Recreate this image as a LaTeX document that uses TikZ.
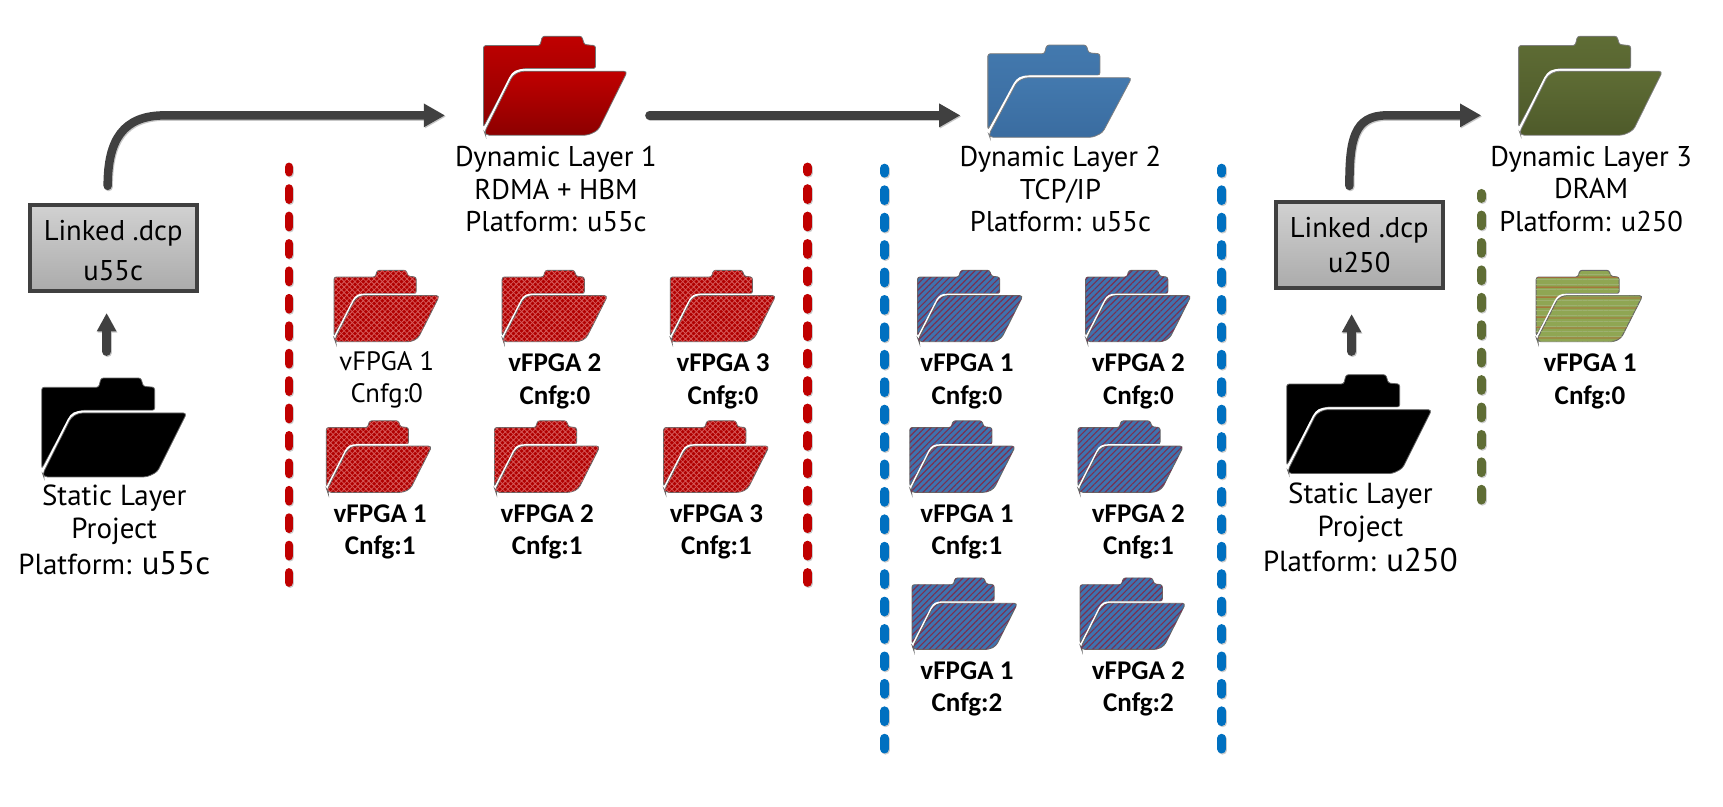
\documentclass[tikz,border=0pt]{standalone}
\usepackage{fontspec}
\setmainfont{PT Sans}
\newfontfamily\cfont{Carlito}
\usetikzlibrary{arrows.meta,patterns.meta,shadings}
\definecolor{arrowgray}{HTML}{404040}
\definecolor{dred}{HTML}{C00000}
\definecolor{dblue}{HTML}{0070C0}
\definecolor{dolive}{HTML}{5F6D35}
\definecolor{HB}{HTML}{4379AE}
\definecolor{HC}{HTML}{3A6CA0}
\definecolor{HD}{HTML}{4E5A2A}
\definecolor{HE}{HTML}{D65A5A}
\definecolor{HF}{HTML}{3F72AE}
\definecolor{HG}{HTML}{7A3050}
\definecolor{HH}{HTML}{8FA653}
\definecolor{HI}{HTML}{B0602F}
\definecolor{HJ}{HTML}{9DB070}
\tikzset{
  flow/.style={draw=arrowgray,line width=4.4pt,line cap=round,
     preaction={draw=black!22,line width=4.4pt,line cap=round,transform canvas={shift={(0.5pt,-0.6pt)}}},
     -{Triangle[length=11pt,width=11.5pt]}},
  flowshort/.style={flow,-{Triangle[length=9.5pt,width=9.5pt]}},
  sep/.style={line width=4.6pt,line cap=round,dash pattern=on 5.6pt off 8.6pt,dash phase=3pt,
     preaction={draw=black!20,line width=4.6pt,line cap=round,dash pattern=on 5.6pt off 8.6pt,dash phase=3pt,
       transform canvas={shift={(0.5pt,-0.6pt)}}}},
  labeltext/.style={align=center,inner sep=0pt,font=\fontsize{14.8}{16.8}\selectfont},
  staticText/.style={align=center,inner sep=0pt,font=\fontsize{15}{17}\selectfont},
  smalltext/.style={align=center,inner sep=0pt,font=\cfont\bfseries\fontsize{14}{17}\selectfont},
  smalllight/.style={align=center,inner sep=0pt,font=\fontsize{13.8}{16.6}\selectfont},
  linkbox/.style={draw=arrowgray,line width=2pt,top color=black!18,bottom color=black!33,
     minimum width=86.5pt,minimum height=44.5pt,align=center,inner sep=0pt,
     font=\fontsize{14.8}{21}\selectfont},
  fblack/.style={fill=black,draw=black!60,line width=.4pt},
  fred/.style={top color=dred,bottom color=red!55!black,draw=black!55,line width=.4pt},
  fblue/.style={top color=HB,bottom color=HC,draw=black!50,line width=.4pt},
  folive/.style={top color=dolive,bottom color=HD,draw=black!50,line width=.4pt},
  fredp/.style={fill=dred!92!black,draw=black!60,line width=.5pt,
     postaction={pattern={Lines[angle=45,distance=2pt,line width=.42pt]},pattern color=HE},
     postaction={pattern={Lines[angle=-45,distance=2pt,line width=.42pt]},pattern color=HE}},
  fbluep/.style={fill=HF,draw=black!60,line width=.5pt,
     postaction={pattern={Lines[angle=45,distance=2.3pt,line width=.6pt]},pattern color=HG}},
  foliveP/.style={fill=HH,draw=black!60,line width=.5pt,
     postaction={pattern={Lines[angle=0,distance=2.7pt,line width=.45pt]},pattern color=HJ},
     postaction={pattern={Lines[angle=0,distance=5.4pt,line width=.5pt]},pattern color=HI}},
}
% #1 name, #2 left, #3 top, #4 width, #5 height, #6 fill style
\newcommand\folder[6]{%
  \node[minimum width=#4*0.569pt,minimum height=#5*0.569pt,inner sep=0pt,outer sep=0pt] (#1) at (#2+#4/2,#3+#5/2) {};
  \begin{scope}[shift={(#2,#3)},x=#4*0.569pt/433,y=-#5*0.569pt/297]
    \fill[#6,rounded corners=1.2pt] (0,272) -- (0,28) -- (170,28) -- (177,0) -- (296,0) -- (303,25) -- (337,28)
       -- (337,97) -- (120,97) -- (88,110) -- cycle;
    \draw[white,line width=1pt,line cap=round] (0,284) -- (80,125) .. controls (90,107) and (100,101) .. (125,101) -- (337,101);
    \path[#6,rounded corners=1.8pt] (6,297) -- (3,288) -- (88,118) -- (112,105) -- (433,105) -- (345,282) -- (315,297) -- cycle;
  \end{scope}}
\begin{document}
\begin{tikzpicture}[x=0.569pt,y=-0.569pt]
\useasboundingbox (0,0) rectangle (1568,733.5);
% separators
\draw[sep,dred] (263,152) -- (263,530);
\draw[sep,dred] (735,152) -- (735,530);
\draw[sep,dblue] (805,153) -- (805,687);
\draw[sep,dblue] (1112,153) -- (1112,687);
\draw[sep,dolive] (1348,176) -- (1348,457);
% big folders
\folder{st1}{38}{344}{132}{90}{fblack}
\folder{st2}{1171}{341}{132}{90}{fblack}
\folder{dy1}{440}{33}{131}{90}{fred}
\folder{dy2}{899}{41}{131}{84}{fblue}
\folder{dy3}{1382}{33}{131}{90}{folive}
% small folders
\folder{ra}{304}{246}{96}{65}{fredp}
\folder{rb}{457}{246}{96}{65}{fredp}
\folder{rc}{610}{246}{96}{65}{fredp}
\folder{rd}{297}{383}{96}{65}{fredp}
\folder{re}{450}{383}{96}{65}{fredp}
\folder{rf}{604}{383}{96}{65}{fredp}
\folder{ba}{835}{246}{96}{65}{fbluep}
\folder{bb}{988}{246}{96}{65}{fbluep}
\folder{bc}{828}{383}{96}{65}{fbluep}
\folder{bd}{981}{383}{96}{65}{fbluep}
\folder{be}{830}{526}{96}{65}{fbluep}
\folder{bf}{983}{526}{96}{65}{fbluep}
\folder{oa}{1398}{246}{97}{65}{foliveP}
% boxes
\node[linkbox] (lk1) at (103,226) {\rule{0pt}{13pt}Linked .dcp\\u55c};
\node[linkbox,font=\fontsize{14.8}{18.6}\selectfont] (lk2) at (1237,223) {Linked .dcp\\u250};
% labels
\node[labeltext] (t1) at (506,172) {Dynamic Layer 1\\RDMA + HBM\\Platform: u55c};
\node[labeltext] (t2) at (965,172) {Dynamic Layer 2\\TCP/IP\\Platform: u55c};
\node[labeltext] (t3) at (1448,172) {Dynamic Layer 3\\DRAM\\Platform: u250};
\node[staticText] (t4) at (104,482) {Static Layer\\Project\\[1.5pt]Platform: {\fontsize{17}{17}\selectfont u55c}};
\node[staticText] (t5) at (1238,480) {Static Layer\\Project\\[1.5pt]Platform: {\fontsize{17}{17}\selectfont u250}};
\node[smalllight] (la) at (352,346) {vFPGA 1\\Cnfg:0};
\node[smalltext] (lb) at (505,347) {vFPGA 2\\Cnfg:0};
\node[smalltext] (lc) at (658,347) {vFPGA 3\\Cnfg:0};
\node[smalltext] (ld) at (346,484) {vFPGA 1\\Cnfg:1};
\node[smalltext] (le) at (498,484) {vFPGA 2\\Cnfg:1};
\node[smalltext] (lf) at (652,484) {vFPGA 3\\Cnfg:1};
\node[smalltext] (ma) at (880,347) {vFPGA 1\\Cnfg:0};
\node[smalltext] (mb) at (1036,347) {vFPGA 2\\Cnfg:0};
\node[smalltext] (mc) at (880,484) {vFPGA 1\\Cnfg:1};
\node[smalltext] (md) at (1036,484) {vFPGA 2\\Cnfg:1};
\node[smalltext] (me) at (880,627) {vFPGA 1\\Cnfg:2};
\node[smalltext] (mf) at (1036,627) {vFPGA 2\\Cnfg:2};
\node[smalltext] (na) at (1447,347) {vFPGA 1\\Cnfg:0};
% arrows
\draw[flow] ([shift={(-5,-16)}]lk1.north) .. controls +(0,-42) and (112,105) .. (150,105) -- ([shift={(-35,27)}]dy1.west);
\draw[flow] ([shift={(20,27)}]dy1.east) -- ([shift={(-25,22)}]dy2.west);
\draw[flow] ([shift={(-9,-13)}]lk2.north) .. controls +(0,-42) and (1232,105) .. (1262,105) -- ([shift={(-34,27)}]dy3.west);
\draw[flowshort] ([shift={(-7,-24)}]st1.north) -- ([shift={(-6,18)}]lk1.south);
\draw[flowshort] ([shift={(-7,-21)}]st2.north) -- ([shift={(-7,22)}]lk2.south);
\end{tikzpicture}
\end{document}
